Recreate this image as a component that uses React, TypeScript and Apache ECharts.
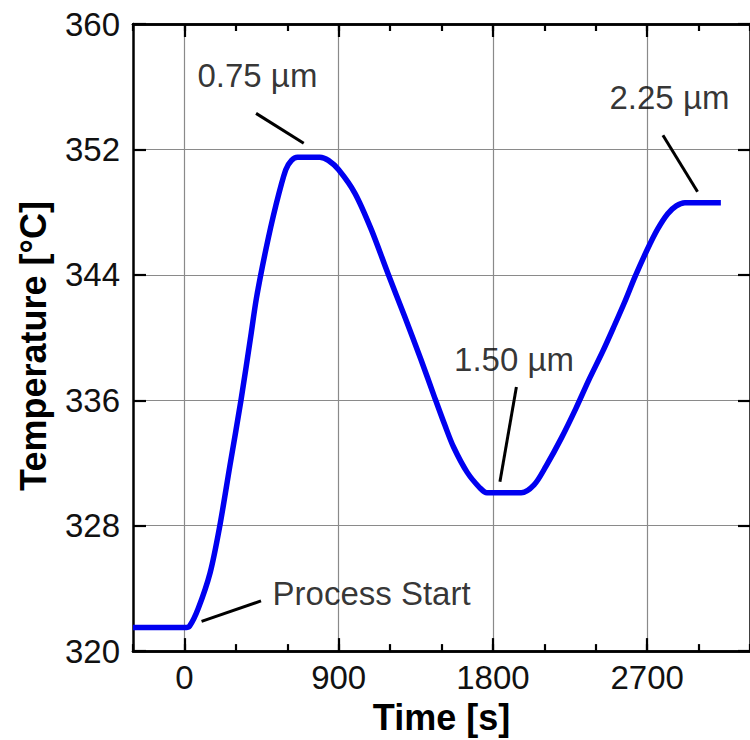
import React, { useEffect, useRef } from "react";
import * as echarts from "echarts";

// Temperature curve (time in s, temperature in °C)
const timeS = [-300, 0, 30, 80, 150, 205, 265, 330, 390, 420, 475, 533, 591, 625, 660, 790, 840, 900, 995, 1090, 1187, 1283, 1380, 1456, 1520, 1571, 1650, 1725, 1765, 1965, 2040, 2110, 2200, 2285, 2360, 2440, 2510, 2570, 2630, 2700, 2760, 2820, 2870, 2920, 2975, 3130];
const tempC = [321.5, 321.5, 321.6, 322.7, 325.0, 327.9, 331.8, 336.0, 340.3, 342.5, 345.6, 348.4, 350.7, 351.3, 351.5, 351.5, 351.3, 350.7, 349.2, 346.9, 344.1, 341.4, 338.6, 336.3, 334.4, 333.0, 331.4, 330.4, 330.1, 330.1, 330.6, 331.8, 333.6, 335.5, 337.3, 339.1, 340.8, 342.3, 343.9, 345.6, 346.9, 347.9, 348.4, 348.6, 348.6, 348.6];

// Axis ticks
const xMajorTicks = [0, 900, 1800, 2700];
const xMin = -300;
const xMax = 3300;
const xMinorStep = 300;
const yMin = 320;
const yMax = 360;
const yStep = 8;

// Annotations
const labelTexts = ["0.75 µm", "1.50 µm", "2.25 µm", "Process Start"];
const labelTime = [426, 1923, 2830, 1092];
const labelTemp = [356.7, 338.6, 355.3, 323.7];

const pointer075 = [[418, 354.3], [696, 352.4]];
const pointer150 = [[1937, 336.85], [1841, 330.8]];
const pointer225 = [[2792, 352.9], [2994, 349.3]];
const pointerStart = [[100, 321.9], [447, 323.2]];

const FONT = '"Liberation Sans", Arial, Helvetica, sans-serif';

export default function App() {
  const ref = useRef<HTMLDivElement>(null);

  useEffect(() => {
    if (!ref.current) return;
    const chart = echarts.init(ref.current, null, { renderer: "svg" });

    const axisLine = { show: true, onZero: false, lineStyle: { color: "#000", width: 2.5 } };
    const tickStyle = { color: "#000", width: 2.2 };
    const commonX = {
      type: "value",
      min: xMin,
      max: xMax,
      axisLine,
      axisLabel: { show: false },
      splitLine: { show: false },
    };

    const pointerSeries = [pointer075, pointer150, pointer225, pointerStart].map((p) => ({
      type: "line",
      xAxisIndex: 0,
      yAxisIndex: 0,
      data: p,
      symbol: "none",
      lineStyle: { color: "#000", width: 3 },
      z: 4,
    }));

    const option: any = {
      animation: false,
      backgroundColor: "#fff",
      grid: { left: 133, right: -7, top: 24, bottom: 88, containLabel: false },
      xAxis: [
        {
          ...commonX,
          position: "bottom",
          axisTick: { show: true, customValues: xMajorTicks, inside: true, length: 13, lineStyle: tickStyle },
          axisLabel: {
            show: true,
            customValues: xMajorTicks,
            formatter: (v: number) => String(v),
            margin: 10,
            fontSize: 33,
            color: "#111",
            fontFamily: FONT,
          },
          splitLine: { show: true, lineStyle: { color: "#8a8a8a", width: 1.2 } },
          name: "Time [s]",
          nameLocation: "middle",
          nameGap: 47,
          nameTextStyle: { fontSize: 36, fontWeight: "bold", color: "#000", fontFamily: FONT },
        },
        {
          ...commonX,
          position: "bottom",
          interval: xMinorStep,
          axisTick: { show: true, inside: true, length: 7, lineStyle: tickStyle },
        },
        {
          ...commonX,
          position: "top",
          axisTick: { show: true, customValues: xMajorTicks, inside: true, length: 13, lineStyle: tickStyle },
        },
        {
          ...commonX,
          position: "top",
          interval: xMinorStep,
          axisTick: { show: true, inside: true, length: 7, lineStyle: tickStyle },
        },
      ],
      yAxis: [
        {
          type: "value",
          position: "left",
          min: yMin,
          max: yMax,
          interval: yStep,
          axisLine,
          axisTick: { show: true, inside: true, length: 13, lineStyle: tickStyle },
          axisLabel: { margin: 13, fontSize: 33, color: "#111", fontFamily: FONT, formatter: (v: number) => String(v) },
          splitLine: { show: true, lineStyle: { color: "#8a8a8a", width: 1.2 } },
        },
        {
          type: "value",
          position: "right",
          min: yMin,
          max: yMax,
          interval: yStep,
          axisLine,
          axisTick: { show: true, inside: true, length: 12, lineStyle: tickStyle },
          axisLabel: { show: false },
          splitLine: { show: false },
        },
      ],
      graphic: [
        {
          type: "text",
          x: 33,
          y: 346,
          rotation: Math.PI / 2,
          style: {
            text: "Temperature [°C]",
            fill: "#000",
            fontSize: 36,
            fontWeight: "bold",
            fontFamily: FONT,
            align: "center",
            verticalAlign: "middle",
          },
        },
      ],
      series: [
        {
          type: "line",
          xAxisIndex: 0,
          yAxisIndex: 0,
          data: timeS.map((t, i) => [t, tempC[i]]),
          symbol: "none",
          showSymbol: false,
          smooth: 0.3,
          lineStyle: { color: "#0000f0", width: 5.5, join: "round" },
          z: 3,
        },
        ...pointerSeries,
        {
          type: "scatter",
          xAxisIndex: 0,
          yAxisIndex: 0,
          symbolSize: 0.01,
          itemStyle: { color: "rgba(0,0,0,0)" },
          data: labelTexts.map((txt, i) => [labelTime[i], labelTemp[i], txt]),
          label: {
            show: true,
            position: "inside",
            formatter: (p: any) => p.value[2],
            fontSize: 33,
            color: "#000",
            fontFamily: FONT,
          },
          z: 5,
        },
      ],
    };

    chart.setOption(option);
    return () => chart.dispose();
  }, []);

  return (
    <div
      ref={ref}
      style={{ position: "absolute", left: 0, top: 0, width: 750, height: 740, background: "#fff" }}
    />
  );
}
